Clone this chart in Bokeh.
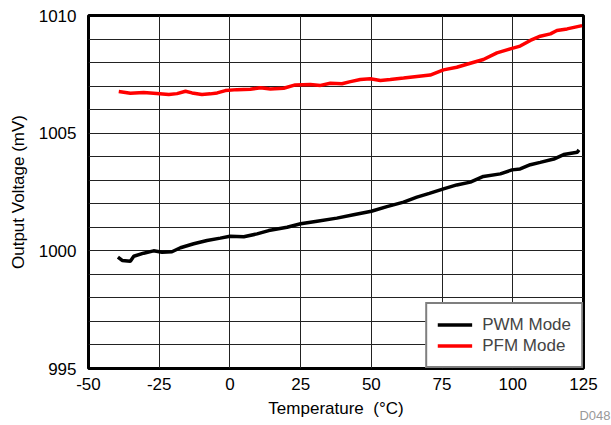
from bokeh.plotting import figure
from bokeh.models import (FixedTicker, Legend, LegendItem, Range1d, Title)
from bokeh.embed import file_html
from bokeh.resources import INLINE

# PFM mode (red)
pfm_t = [-39.3, -35.2, -30.5, -27.0, -21.6, -18.7, -15.7, -13.4, -9.9, -6.9, -4.5, -1.6,
         2.5, 7.2, 10.8, 14.3, 19.0, 23.1, 28.4, 32.0, 35.5, 39.6, 42.6, 46.1, 49.6,
         53.2, 56.7, 61.4, 66.1, 70.8, 75.5, 80.2, 85.0, 89.6, 94.4, 99.1, 102.6,
         106.2, 109.7, 113.3, 115.6, 119.2, 124.5]
pfm_v = [1006.77, 1006.70, 1006.73, 1006.70, 1006.64, 1006.68, 1006.78, 1006.71, 1006.64,
         1006.67, 1006.71, 1006.81, 1006.85, 1006.87, 1006.93, 1006.88, 1006.91, 1007.05,
         1007.07, 1007.03, 1007.12, 1007.10, 1007.19, 1007.28, 1007.31, 1007.24, 1007.28,
         1007.34, 1007.41, 1007.47, 1007.69, 1007.80, 1007.97, 1008.13, 1008.41, 1008.58,
         1008.70, 1008.94, 1009.12, 1009.22, 1009.36, 1009.43, 1009.57]

# PWM mode (black)
pwm_t = [-39.6, -38.1, -35.2, -34.0, -30.5, -27.0, -24.0, -20.5, -17.5, -12.8, -8.1, -3.4,
         0.0, 4.9, 9.6, 13.7, 20.2, 25.0, 30.8, 37.8, 43.7, 50.0, 55.5, 61.4, 66.1,
         70.5, 75.5, 80.2, 85.0, 89.6, 95.6, 99.7, 102.6, 106.2, 109.7, 114.5, 118.0,
         122.8, 123.4]
pwm_v = [999.73, 999.59, 999.56, 999.77, 999.90, 1000.00, 999.94, 999.96, 1000.13, 1000.30,
         1000.44, 1000.54, 1000.62, 1000.60, 1000.72, 1000.86, 1001.00, 1001.15, 1001.26,
         1001.39, 1001.53, 1001.68, 1001.88, 1002.07, 1002.28, 1002.44, 1002.63, 1002.80,
         1002.92, 1003.16, 1003.27, 1003.44, 1003.48, 1003.66, 1003.76, 1003.90, 1004.09,
         1004.19, 1004.29]

x_ticks = [-50, -25, 0, 25, 50, 75, 100, 125]
y_ticks = [995, 1000, 1005, 1010]
y_minor = list(range(995, 1011))

FONT = "Liberation Sans"

p = figure(width=611, height=425, output_backend="svg", toolbar_location=None,
           x_range=Range1d(-50, 125), y_range=Range1d(995, 1010),
           min_border_left=88, min_border_right=28, min_border_top=15, min_border_bottom=57)

p.outline_line_color = "black"
p.outline_line_width = 3
p.background_fill_color = "white"
p.border_fill_color = "white"

for ax in (p.xaxis[0], p.yaxis[0]):
    ax.axis_line_color = None
    ax.major_tick_line_color = None
    ax.minor_tick_line_color = None
    ax.major_label_text_font = FONT
    ax.major_label_text_font_size = "17px"
    ax.major_label_text_color = "black"
    ax.axis_label_text_font = FONT
    ax.axis_label_text_font_size = "17px"
    ax.axis_label_text_font_style = "normal"
    ax.axis_label_text_color = "black"

p.yaxis.major_label_standoff = 6
p.xaxis.major_label_standoff = 3
p.xaxis.ticker = FixedTicker(ticks=x_ticks)
p.xaxis.major_label_overrides = {t: str(t) for t in x_ticks}
p.yaxis.ticker = FixedTicker(ticks=y_ticks, minor_ticks=y_minor)
p.yaxis.major_label_overrides = {t: str(t) for t in y_ticks}
p.xaxis.axis_label = "Temperature \u00a0(\u00b0C)"
p.yaxis.axis_label = "Output Voltage (mV)"
p.xaxis.axis_label_standoff = 6
p.yaxis.axis_label_standoff = 8

p.xgrid.grid_line_color = "#222222"
p.xgrid.grid_line_width = 1
p.ygrid.grid_line_color = "#222222"
p.ygrid.grid_line_width = 1
p.ygrid.minor_grid_line_color = "#222222"
p.ygrid.minor_grid_line_width = 1

r_pfm = p.line(pfm_t, pfm_v, line_color="#ff0000", line_width=3.5)
r_pwm = p.line(pwm_t, pwm_v, line_color="black", line_width=3.5)

legend = Legend(items=[LegendItem(label="PWM Mode", renderers=[r_pwm]),
                       LegendItem(label="PFM Mode", renderers=[r_pfm])],
                location="bottom_right", margin=0, padding=10, spacing=0,
                label_text_font=FONT, label_text_font_size="17px",
                label_height=21, glyph_height=21, glyph_width=35, label_standoff=10,
                border_line_color="black", border_line_width=2,
                background_fill_color="white", background_fill_alpha=1.0)
p.add_layout(legend, "center")

# small gray figure tag in the bottom-right corner (side panel, so it is not clipped)
tag = Title(text="D048", align="right", offset=-27, standoff=-26, vertical_align="top",
            text_font=FONT, text_font_size="13px", text_font_style="normal",
            text_color="#999999")
p.add_layout(tag, "below")

open("out.html", "w").write(file_html(p, INLINE))
